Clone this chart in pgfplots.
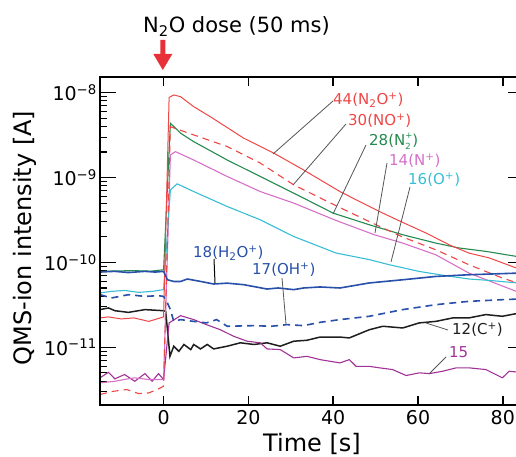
\documentclass[border=0pt]{standalone}
\usepackage{fontspec}
\setmainfont{DejaVu Sans}
\usepackage{pgfplots}
\pgfplotsset{compat=1.18}
\definecolor{c44}{RGB}{238,70,70}
\definecolor{c28}{RGB}{36,138,78}
\definecolor{c14}{RGB}{214,112,200}
\definecolor{c16}{RGB}{56,190,212}
\definecolor{c18}{RGB}{40,80,170}
\definecolor{c12}{RGB}{30,30,30}
\definecolor{c15}{RGB}{160,50,150}
\definecolor{carrow}{RGB}{232,48,56}
\definecolor{cgray}{RGB}{85,85,85}
\newcommand{\subsup}[2]{\rlap{\raisebox{-0.4ex}{\fontsize{8.5}{8.5}\selectfont #1}}\raisebox{0.95ex}{\fontsize{8.5}{8.5}\selectfont #2}}
\begin{document}
\begin{tikzpicture}
\useasboundingbox (0,0) rectangle (516pt,457pt);
\begin{axis}[
  at={(100pt,52pt)}, anchor=south west,
  scale only axis, width=424pt, height=328pt,
  xmin=-15, xmax=85,
  ymode=log, ymin=2.09e-12, ymax=1.53e-8,
  xtick=\empty,
  ytick={1e-11,1e-10,1e-9,1e-8},
  yticklabels={10\textsuperscript{−11},10\textsuperscript{−10},10\textsuperscript{−9},10\textsuperscript{−8}},
  minor ytick={3e-12,4e-12,5e-12,6e-12,7e-12,8e-12,9e-12,2e-11,3e-11,4e-11,5e-11,6e-11,7e-11,8e-11,9e-11,2e-10,3e-10,4e-10,5e-10,6e-10,7e-10,8e-10,9e-10,2e-9,3e-9,4e-9,5e-9,6e-9,7e-9,8e-9,9e-9},
  major tick length=16pt, minor tick length=7pt,
  tick align=inside,
  axis line style={line width=1.6pt, black},
  major tick style={line width=1.5pt, black},
  minor tick style={line width=1.1pt, black},
  yticklabel style={font=\fontsize{19}{22}\selectfont, inner sep=0pt, xshift=-3pt},
  ylabel={QMS-ion intensity [A]},
  ylabel style={font=\fontsize{24}{28}\selectfont, at={(axis description cs:-0.1604,0.509)}, anchor=base},
]
% 12 (C+)
\addplot[c12, line width=1.5pt] coordinates {
(-15,2.78e-11) (-13,2.91e-11) (-11.5,2.7e-11) (-8.3,2.58e-11) (-4.4,2.78e-11) (0,2.7e-11) (0.5,2.65e-11) (1.5,7.83e-12) (2.4,1.03e-11) (3.6,8.97e-12) (4.8,1.08e-11) (6.4,9.4e-12) (7.1,1.08e-11) (8.7,9.57e-12) (10.3,1.08e-11) (11.8,9.57e-12) (15,1.03e-11) (18.1,1.13e-11) (21.3,1.08e-11) (24.4,1.13e-11) (27.5,1.03e-11) (30.7,1.18e-11) (33.8,1.21e-11) (36.9,1.32e-11) (41.6,1.32e-11) (43.8,1.29e-11) (48.5,1.61e-11) (51.7,1.77e-11) (56.4,1.69e-11) (60.3,1.94e-11) (64.2,2.02e-11) (68.2,2.22e-11) (72,2.22e-11) (76,2.43e-11) (79.9,2.32e-11) (84,2.54e-11)};
% 15
\addplot[c15, line width=1.1pt] coordinates {
(-15,4.37e-12) (-13,5.08e-12) (-11.5,4.25e-12) (-9.2,4.78e-12) (-6.8,3.98e-12) (-4.4,4.9e-12) (-2.7,3.98e-12) (-1.2,4.9e-12) (0,4.17e-12) (1.3,1.94e-11) (4,2.36e-11) (7.1,2.12e-11) (10.1,1.85e-11) (13.4,1.61e-11) (16.5,1.35e-11) (19.7,1.18e-11) (22.8,1.13e-11) (24.4,9.57e-12) (27.5,9.4e-12) (30.7,7.5e-12) (33.8,7.83e-12) (36.9,7.16e-12) (41.6,6.55e-12) (43.8,7.16e-12) (45.4,5.97e-12) (48.5,5.97e-12) (50.9,5.73e-12) (54,5.47e-12) (57.2,4.65e-12) (60.3,5.0e-12) (62.7,4.9e-12) (65.8,5.22e-12) (69,5.73e-12) (72,5.73e-12) (76,5.47e-12) (79.9,4.37e-12) (81.5,5.22e-12) (84,5.08e-12)};
% 14 (N+)
\addplot[c14, line width=1.1pt] coordinates {
(-15,3.81e-12) (-11.5,3.98e-12) (-9,4.2e-12) (-6.8,4.37e-12) (-3.5,4.17e-12) (0,4.17e-12) (1.6,1.85e-9) (2.8,2.02e-9) (7.1,1.61e-9) (15,1.03e-9) (22.8,6.84e-10) (30.7,5.0e-10) (40.7,3.12e-10) (49.7,2.12e-10) (56.4,1.69e-10) (64.2,1.23e-10) (72,7.5e-11) (84,4.4e-11)};
% 16 (O+)
\addplot[c16, line width=1.1pt] coordinates {
(-15,4.37e-11) (-12.3,4.56e-11) (-9.2,4.68e-11) (-5.9,4.44e-11) (-2.7,4.56e-11) (0,4.78e-11) (1.6,7.16e-10) (3.2,8.43e-10) (7.1,6.84e-10) (15,4.56e-10) (22.8,3.18e-10) (30.7,2.02e-10) (40.7,1.29e-10) (48.5,1.08e-10) (53.2,9.4e-11) (60.3,7.83e-11) (66.6,6.98e-11) (72,6.38e-11) (76.8,6.14e-11) (84,5.7e-11)};
% 28 (N2+)
\addplot[c28, line width=1.1pt] coordinates {
(-15,7.83e-11) (-11,7.95e-11) (-7,8.0e-11) (-3,7.9e-11) (0,8.2e-11) (1.6,4.37e-9) (4,3.33e-9) (7.1,2.65e-9) (15,1.61e-9) (22.8,1.03e-9) (30.7,6.55e-10) (40,3.81e-10) (48.5,2.78e-10) (56.4,2.12e-10) (64.2,1.69e-10) (69.7,1.48e-10) (76,1.35e-10) (84,1.16e-10)};
% 30 (NO+)
\addplot[c44, line width=1.1pt, dash pattern=on 7pt off 5pt] coordinates {
(-15,2.78e-12) (-11.9,3.03e-12) (-8.7,3.18e-12) (-5.9,2.85e-12) (-3.5,2.9e-12) (-1.2,3.24e-12) (0,3.48e-12) (1.6,3.98e-9) (7.1,3.18e-9) (15,2.32e-9) (22.8,1.48e-9) (30.7,8.2e-10) (40.7,4.65e-10) (48.5,3.03e-10) (56.4,1.99e-10) (64.2,1.41e-10) (72,9.4e-11) (79.9,6.55e-11) (84,5.6e-11)};
% 44 (N2O+)
\addplot[c44, line width=1.0pt] coordinates {
(-15,2.22e-11) (-13,2.28e-11) (-10,2.16e-11) (-7,2.22e-11) (-3.5,2.02e-11) (0,2.28e-11) (1.3,8.8e-9) (2.4,9.4e-9) (4,8.97e-9) (7.1,6.84e-9) (11,5.22e-9) (18.9,2.91e-9) (26,1.94e-9) (33,1.23e-9) (41.6,6.84e-10) (45.4,5.47e-10) (50.9,3.98e-10) (56.4,2.96e-10) (61.9,2.22e-10) (67.4,1.61e-10) (72,1.29e-10) (76.8,1.13e-10) (84,8.3e-11)};
% 17 (OH+)
\addplot[c18, line width=1.6pt, dash pattern=on 7pt off 5pt] coordinates {
(-15,4.17e-11) (-12.3,3.81e-11) (-8.3,4.17e-11) (-4.4,3.98e-11) (-1.2,4.06e-11) (0,3.98e-11) (0.9,3.33e-11) (1.6,2.78e-11) (2.4,2.02e-11) (4,2.12e-11) (7.1,2.02e-11) (10.1,1.94e-11) (12.5,2.12e-11) (15,1.77e-11) (21.3,1.8e-11) (25.4,1.77e-11) (29.1,1.85e-11) (33,1.8e-11) (36.9,1.97e-11) (41.6,2.12e-11) (48.5,2.32e-11) (56.4,2.78e-11) (64.2,3.18e-11) (72,3.48e-11) (79.9,3.64e-11) (84,3.71e-11)};
% 18 (H2O+)
\addplot[c18, line width=1.6pt] coordinates {
(-15,7.7e-11) (-13,7.8e-11) (-11.5,7.85e-11) (-8.3,7.6e-11) (-6,7.75e-11) (-4.4,7.85e-11) (-2,7.7e-11) (0,7.85e-11) (0.9,6.25e-11) (2.4,5.97e-11) (4,5.97e-11) (5.6,6.38e-11) (8.5,6.0e-11) (11.8,5.57e-11) (15,5.7e-11) (18.9,5.47e-11) (24.4,4.86e-11) (27,5.0e-11) (30.7,4.78e-11) (33,5.0e-11) (36.9,5.14e-11) (41.6,5.0e-11) (48.5,5.73e-11) (56.4,6.25e-11) (64.2,6.84e-11) (72,7.16e-11) (84,7.5e-11)};
\end{axis}
\begin{axis}[
  at={(100pt,52pt)}, anchor=south west,
  scale only axis, width=424pt, height=328pt,
  xmin=-15, xmax=85, ymin=0, ymax=1,
  ytick=\empty,
  xtick={0,20,40,60,80}, xticklabels={0,20,40,60,80},
  major tick length=9pt, tick align=inside,
  axis line style={line width=1.6pt, black},
  major tick style={line width=1.5pt, black},
  xticklabel style={font=\fontsize{19}{22}\selectfont, yshift=-2pt},
  xlabel={Time [s]},
  xlabel style={font=\fontsize{24}{28}\selectfont, at={(axis description cs:0.5,-0.1405)}, anchor=base},
]
\addplot[draw=none] coordinates {(0,0.5)};
\end{axis}
\begin{scope}[x=1pt,y=-1pt,yshift=457pt]
  % title and arrow
  \node[anchor=base west, inner sep=0pt, font=\fontsize{21}{24}\selectfont] at (143,33) {N\textsubscript{2}O dose (50 ms)};
  \fill[carrow] (160.3,40) -- (165.3,40) -- (165.3,54) -- (172.3,54) -- (162.8,70) -- (153.3,54) -- (160.3,54) -- cycle;
  % leader lines
  \begin{scope}[cgray, line width=0.8pt]
    \draw (333,101) -- (273,154);
    \draw (346,124) -- (293,185);
    \draw (366,145) -- (333,214);
    \draw (387,163) -- (375,233);
    \draw (410,187) -- (391,262);
    \draw (282,278) -- (286,324);
    \draw (448,330) -- (426,323);
    \draw (446,357) -- (429,374);
  \end{scope}
  \draw[black, line width=1pt] (214,259) -- (215,283);
  \begin{scope}[every node/.style={anchor=west, inner sep=0pt, font=\fontsize{15}{17}\selectfont}]
    \node[text=c44] at (333,100) {44(N\textsubscript{2}O\textsuperscript{+})};
    \node[text=c44] at (348,121) {30(NO\textsuperscript{+})};
    \node[text=c28] at (369,141) {28(N\subsup{2}{+})};
    \node[text=c14] at (389,161) {14(N\textsuperscript{+})};
    \node[text=c16] at (408,180) {16(O\textsuperscript{+})};
    \node[text=c18] at (193,253) {18(H\textsubscript{2}O\textsuperscript{+})};
    \node[text=c18] at (252,270) {17(OH\textsuperscript{+})};
    \node[text=c12] at (452,330) {12(C\textsuperscript{+})};
    \node[text=c15] at (449,352) {15};
  \end{scope}
\end{scope}
\end{tikzpicture}
\end{document}
